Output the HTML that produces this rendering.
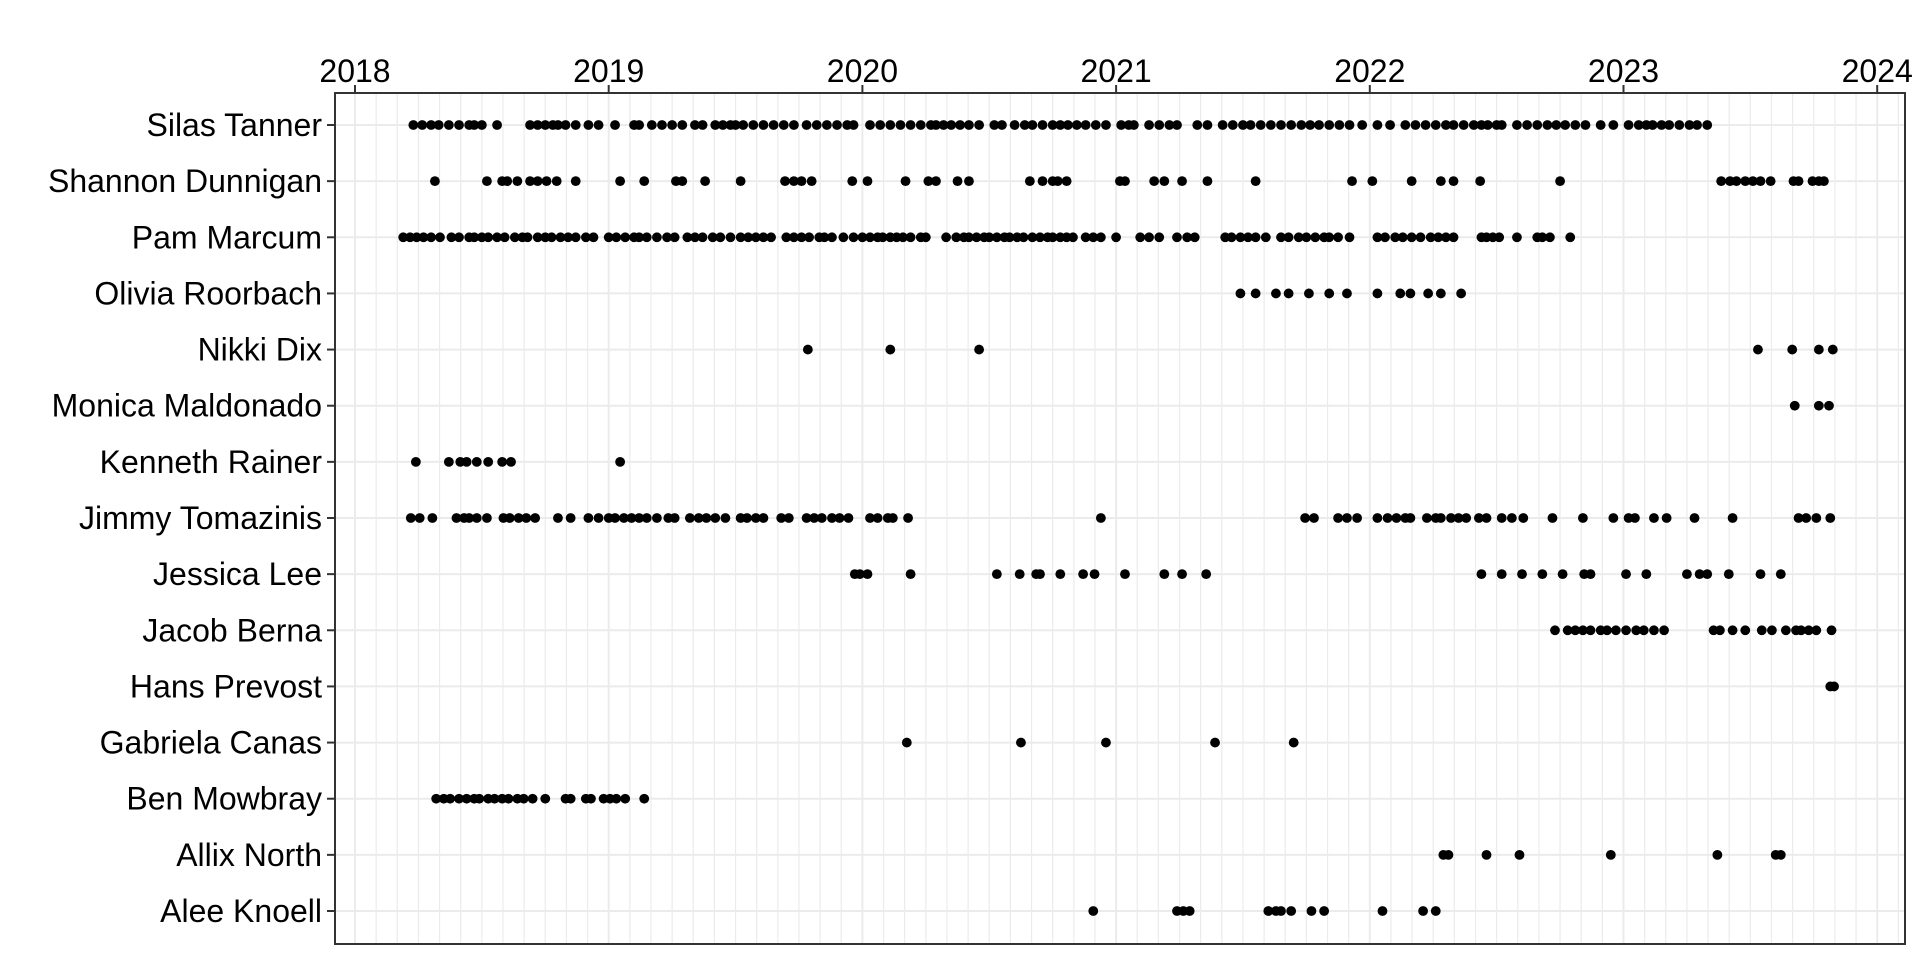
<!DOCTYPE html>
<html><head><meta charset="utf-8">
<style>
html,body{margin:0;padding:0;background:#fff;}
svg{display:block;font-family:"Liberation Sans",Arial,sans-serif;}
</style></head>
<body>
<svg id="chart" width="1920" height="960" viewBox="0 0 1920 960"></svg>
<script>
const people = ["Silas Tanner","Shannon Dunnigan","Pam Marcum","Olivia Roorbach","Nikki Dix","Monica Maldonado","Kenneth Rainer","Jimmy Tomazinis","Jessica Lee","Jacob Berna","Hans Prevost","Gabriela Canas","Ben Mowbray","Allix North","Alee Knoell"];
const yearTicks = [2018,2019,2020,2021,2022,2023,2024];
const silas = [2018.23,2018.265,2018.30,2018.33,2018.37,2018.41,2018.45,2018.47,2018.50,2018.56,2018.69,2018.72,2018.75,2018.78,2018.80,2018.83,2018.87,2018.92,2018.96,2019.025,2019.10,2019.12,2019.17,2019.21,2019.25,2019.29,2019.34,2019.37,2019.42,2019.45,2019.48,2019.50,2019.53,2019.57,2019.61,2019.65,2019.69,2019.73,2019.78,2019.82,2019.86,2019.90,2019.94,2019.965,2020.03,2020.07,2020.11,2020.15,2020.19,2020.23,2020.27,2020.29,2020.32,2020.35,2020.385,2020.42,2020.46,2020.52,2020.55,2020.60,2020.64,2020.67,2020.71,2020.75,2020.78,2020.81,2020.845,2020.88,2020.92,2020.96,2021.02,2021.05,2021.07,2021.13,2021.17,2021.21,2021.24,2021.32,2021.36,2021.42,2021.46,2021.50,2021.53,2021.57,2021.61,2021.65,2021.69,2021.73,2021.765,2021.80,2021.84,2021.88,2021.92,2021.97,2022.03,2022.08,2022.14,2022.18,2022.22,2022.26,2022.30,2022.33,2022.37,2022.41,2022.44,2022.465,2022.50,2022.52,2022.58,2022.62,2022.66,2022.70,2022.735,2022.77,2022.81,2022.85,2022.91,2022.96,2023.02,2023.06,2023.09,2023.115,2023.15,2023.18,2023.22,2023.26,2023.29,2023.33];
const shannon = [2018.315,2018.52,2018.58,2018.60,2018.64,2018.69,2018.72,2018.755,2018.795,2018.87,2019.045,2019.14,2019.265,2019.29,2019.38,2019.52,2019.695,2019.73,2019.76,2019.80,2019.96,2020.02,2020.17,2020.26,2020.29,2020.375,2020.42,2020.66,2020.71,2020.75,2020.77,2020.805,2021.015,2021.035,2021.15,2021.19,2021.26,2021.36,2021.55,2021.93,2022.01,2022.165,2022.28,2022.33,2022.435,2022.75,2023.385,2023.42,2023.445,2023.48,2023.51,2023.54,2023.58,2023.67,2023.69,2023.745,2023.77,2023.79];
const pam = [2018.19,2018.217,2018.243,2018.27,2018.30,2018.335,2018.38,2018.41,2018.45,2018.47,2018.50,2018.525,2018.56,2018.59,2018.63,2018.66,2018.68,2018.72,2018.75,2018.775,2018.81,2018.84,2018.87,2018.91,2018.94,2019.00,2019.03,2019.065,2019.10,2019.12,2019.15,2019.19,2019.23,2019.26,2019.31,2019.34,2019.37,2019.41,2019.44,2019.48,2019.52,2019.55,2019.58,2019.61,2019.64,2019.70,2019.73,2019.76,2019.79,2019.83,2019.85,2019.88,2019.925,2019.965,2020.00,2020.03,2020.06,2020.08,2020.11,2020.135,2020.16,2020.19,2020.23,2020.25,2020.33,2020.37,2020.40,2020.42,2020.45,2020.48,2020.50,2020.53,2020.56,2020.58,2020.61,2020.635,2020.67,2020.70,2020.73,2020.75,2020.78,2020.805,2020.83,2020.88,2020.91,2020.94,2021.00,2021.095,2021.13,2021.17,2021.24,2021.28,2021.31,2021.43,2021.455,2021.49,2021.52,2021.55,2021.59,2021.65,2021.68,2021.72,2021.75,2021.785,2021.82,2021.84,2021.875,2021.92,2022.03,2022.06,2022.10,2022.13,2022.165,2022.20,2022.24,2022.27,2022.30,2022.33,2022.44,2022.46,2022.485,2022.51,2022.58,2022.66,2022.68,2022.71,2022.79];
const olivia = [2021.49,2021.55,2021.63,2021.68,2021.76,2021.84,2021.91,2022.03,2022.12,2022.16,2022.23,2022.28,2022.36];
const nikki = [2019.785,2020.11,2020.46,2023.53,2023.665,2023.77,2023.825];
const monica = [2023.675,2023.77,2023.81];
const kenneth = [2018.24,2018.37,2018.415,2018.44,2018.48,2018.525,2018.58,2018.615,2019.045];
const jimmy = [2018.22,2018.255,2018.305,2018.40,2018.43,2018.45,2018.48,2018.52,2018.585,2018.61,2018.645,2018.675,2018.71,2018.80,2018.85,2018.92,2018.96,2019.00,2019.025,2019.06,2019.09,2019.12,2019.15,2019.19,2019.235,2019.26,2019.32,2019.355,2019.385,2019.42,2019.46,2019.52,2019.545,2019.58,2019.61,2019.68,2019.71,2019.78,2019.81,2019.84,2019.88,2019.91,2019.945,2020.03,2020.06,2020.10,2020.12,2020.18,2020.94,2021.745,2021.78,2021.875,2021.91,2021.95,2022.03,2022.07,2022.105,2022.14,2022.16,2022.225,2022.26,2022.28,2022.32,2022.35,2022.38,2022.43,2022.46,2022.52,2022.56,2022.605,2022.72,2022.84,2022.96,2023.02,2023.045,2023.12,2023.17,2023.28,2023.43,2023.69,2023.72,2023.76,2023.815];
const jessica = [2019.97,2019.99,2020.02,2020.19,2020.53,2020.62,2020.685,2020.70,2020.78,2020.87,2020.915,2021.035,2021.19,2021.26,2021.355,2022.44,2022.52,2022.60,2022.68,2022.76,2022.845,2022.87,2023.01,2023.09,2023.25,2023.30,2023.33,2023.415,2023.54,2023.62];
const jacob = [2022.73,2022.78,2022.81,2022.84,2022.87,2022.91,2022.935,2022.97,2023.01,2023.05,2023.08,2023.12,2023.16,2023.355,2023.38,2023.43,2023.48,2023.545,2023.585,2023.64,2023.68,2023.70,2023.73,2023.76,2023.82];
const hans = [2023.815,2023.83];
const gabriela = [2020.175,2020.625,2020.96,2021.39,2021.70];
const ben = [2018.32,2018.35,2018.375,2018.41,2018.44,2018.47,2018.49,2018.525,2018.55,2018.58,2018.605,2018.64,2018.665,2018.70,2018.75,2018.83,2018.85,2018.91,2018.93,2018.98,2019.005,2019.03,2019.065,2019.14];
const allix = [2022.29,2022.31,2022.46,2022.59,2022.95,2023.37,2023.60,2023.62];
const alee = [2020.91,2021.24,2021.265,2021.29,2021.60,2021.63,2021.65,2021.69,2021.77,2021.82,2022.05,2022.21,2022.26];
const seriesDates = [silas,shannon,pam,olivia,nikki,monica,kenneth,jimmy,jessica,jacob,hans,gabriela,ben,allix,alee];

const NS="http://www.w3.org/2000/svg";
const svg=document.getElementById('chart');
const P={l:335,r:1905,t:93,b:944};
const x0=355, pxYear=253.7;
function xs(v){return x0+(v-2018)*pxYear;}
function ys(i){return 125+i*((911-125)/(people.length-1));}
function mk(tag,attrs,parent){const e=document.createElementNS(NS,tag);for(const k in attrs)e.setAttribute(k,attrs[k]);(parent||svg).appendChild(e);return e;}

const grid=mk('g',{});


for(let m=-1;m<=84;m++){
  const v=2018+m/12; const x=xs(v);
  if(x<=P.l||x>=P.r) continue;
  const major = m%12===0;
  const ln=mk('line',{x1:x,x2:x,y1:P.t,y2:P.b,stroke:'#ebebeb','stroke-width':major?2:1.2},grid);
  
  
}
people.forEach((p,i)=>{
  const y=ys(i);
  const ln=mk('line',{x1:P.l,x2:P.r,y1:y,y2:y,stroke:'#ebebeb','stroke-width':2},grid);
  
  
});

const pts=mk('g',{fill:'#000'});


seriesDates.forEach((arr,i)=>{
  arr.forEach(v=>{
    const c=mk('circle',{cx:xs(v),cy:ys(i),r:4.9},pts);
    
    
  });
});

const border=mk('rect',{x:P.l,y:P.t,width:P.r-P.l,height:P.b-P.t,fill:'none',stroke:'#333','stroke-width':2});



const xa=mk('g',{});


yearTicks.forEach(v=>{
  const x=xs(v);
  const t=mk('line',{x1:x,x2:x,y1:P.t-8,y2:P.t,stroke:'#333','stroke-width':2},xa);
  
  
  const tx=mk('text',{x:x,y:P.t-11,'text-anchor':'middle','font-size':32,fill:'#000'},xa);
  tx.textContent=v;
  
  
});
const ya=mk('g',{});


people.forEach((p,i)=>{
  const y=ys(i);
  const t=mk('line',{x1:P.l-8,x2:P.l,y1:y,y2:y,stroke:'#333','stroke-width':2},ya);
  
  
  const tx=mk('text',{x:P.l-13,y:y+11,'text-anchor':'end','font-size':32,fill:'#000'},ya);
  tx.textContent=p;
  
  
});
</script>
</body></html>
